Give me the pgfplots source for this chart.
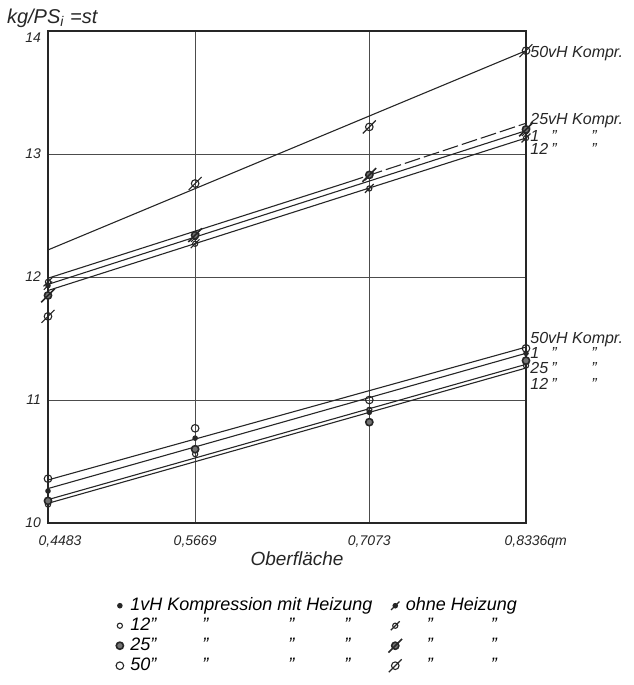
\documentclass[border=0pt]{standalone}
\usepackage{fontspec}
\setmainfont{Liberation Sans}
\usepackage{pgfplots}
\pgfplotsset{compat=1.18}
\pgfdeclareplotmark{oslash}{%
  \pgfpathcircle{\pgfpointorigin}{\pgfplotmarksize}%
  \pgfusepathqstroke
  \pgfpathmoveto{\pgfpoint{-1.7\pgfplotmarksize}{-1.7\pgfplotmarksize}}%
  \pgfpathlineto{\pgfpoint{1.7\pgfplotmarksize}{1.7\pgfplotmarksize}}%
  \pgfusepathqstroke}
\pgfdeclareplotmark{ofslash}{%
  \pgfpathcircle{\pgfpointorigin}{\pgfplotmarksize}%
  \pgfusepathqfillstroke
  \pgfpathmoveto{\pgfpoint{-1.9\pgfplotmarksize}{-1.9\pgfplotmarksize}}%
  \pgfpathlineto{\pgfpoint{1.9\pgfplotmarksize}{1.9\pgfplotmarksize}}%
  \pgfusepathqstroke}
\newcommand{\dit}[1]{\makebox[10.5pt][l]{#1}\makebox[20pt][l]{''}''}
\newcommand{\lgA}[1]{\makebox[128.5pt][l]{\makebox[36pt][l]{#1}\makebox[43pt][l]{''}\makebox[28pt][l]{''}''}}
\newcommand{\lgB}{\hspace*{10.5pt}\makebox[32pt][l]{''}''}
\tikzset{lab/.style={anchor=west, xshift=1.5pt, font=\fontsize{8}{9}\selectfont\itshape, inner sep=0.5pt, black!85}}
\begin{document}
\begin{tikzpicture}[font=\itshape]
\useasboundingbox (-24pt,-81pt) rectangle (292.5pt,261.5pt);
\begin{axis}[
  at={(0,0)}, anchor=south west,
  scale only axis, width=239pt, height=246pt,
  xmin=0.4483, xmax=0.8336, ymin=10, ymax=14,
  xtick={0.4483,0.5669,0.7073,0.8336},
  xticklabels={{\hspace*{12pt}0,4483},{0,5669},{0,7073},{0,8336\rlap{qm}}},
  ytick={10,11,12,13,14},
  yticklabels={10,11,12,13,{\smash{\raisebox{-5.5pt}{14}}}},
  major tick length=0pt,
  tick label style={font=\fontsize{7}{8}\selectfont\itshape, black!85},
  xticklabel style={yshift=-3pt},
  axis line style={line width=0.6pt, black!85},
  grid=major, grid style={line width=0.35pt, black!70},
  clip=false,
  every axis plot/.append style={line width=0.55pt, black!85},
  legend columns=2,
  legend cell align=left,
  legend image code/.code={\draw[mark repeat=2,mark phase=2] plot coordinates {(0pt,0pt)(2pt,0pt)(4pt,0pt)}; \path (0pt,0pt) (6.5pt,0pt);},
  legend style={at={(rel axis cs:0.140,-0.148)}, anchor=north west, draw=none, fill=none, inner sep=0pt,
    font=\fontsize{9}{10}\selectfont\itshape, row sep=0.5pt,
    nodes={inner sep=0.5pt, text height=6.5pt, text depth=2pt}},
]
% ---- lines, ohne Heizung (upper)
\addplot[forget plot] coordinates {(0.4483,12.22) (0.8336,13.84)};
\addplot[forget plot] coordinates {(0.4483,11.99) (0.6900,12.77)};
\addplot[forget plot, dash pattern=on 8pt off 2pt] coordinates {(0.6900,12.77) (0.8336,13.25)};
\addplot[forget plot] coordinates {(0.4483,11.94) (0.8336,13.19)};
\addplot[forget plot] coordinates {(0.4483,11.89) (0.8336,13.13)};
% ---- lines, mit Heizung (lower)
\addplot[forget plot] coordinates {(0.4483,10.35) (0.8336,11.43)};
\addplot[forget plot] coordinates {(0.4483,10.28) (0.8336,11.38)};
\addplot[forget plot] coordinates {(0.4483,10.19) (0.8336,11.29)};
\addplot[forget plot] coordinates {(0.4483,10.16) (0.8336,11.26)};
% ---- marks
\addplot[only marks, mark=*, mark size=1.1pt] coordinates {(0.4483,10.26) (0.5669,10.69) (0.7073,10.90) (0.8336,11.38)};
\addlegendentry{\makebox[128.5pt][l]{1vH Kompression mit Heizung}}
\addplot[only marks, mark=ofslash, mark size=1.1pt] coordinates {(0.4483,11.93) (0.5669,12.32) (0.7073,12.82) (0.8336,13.18)};
\addlegendentry{ohne Heizung}
\addplot[only marks, mark=o, mark size=1.3pt, mark options={fill=white}] coordinates {(0.4483,10.15) (0.5669,10.56) (0.7073,10.92) (0.8336,11.28)};
\addlegendentry{\lgA{12''}}
\addplot[only marks, mark=oslash, mark size=1.3pt] coordinates {(0.4483,11.96) (0.5669,12.27) (0.7073,12.72) (0.8336,13.13)};
\addlegendentry{\lgB}
\addplot[only marks, mark=*, mark size=1.8pt, mark options={fill=black!55, line width=0.8pt}] coordinates {(0.4483,10.18) (0.5669,10.60) (0.7073,10.82) (0.8336,11.32)};
\addlegendentry{\lgA{25''}}
\addplot[only marks, mark=ofslash, mark size=1.8pt, mark options={fill=black!55, line width=0.8pt}] coordinates {(0.4483,11.85) (0.5669,12.34) (0.7073,12.83) (0.8336,13.20)};
\addlegendentry{\lgB}
\addplot[only marks, mark=o, mark size=1.9pt, mark options={fill=white}] coordinates {(0.4483,10.36) (0.5669,10.77) (0.7073,11.00) (0.8336,11.42)};
\addlegendentry{\lgA{50''}}
\addplot[only marks, mark=oslash, mark size=1.9pt, mark options={fill=white}] coordinates {(0.4483,11.68) (0.5669,12.76) (0.7073,13.22) (0.8336,13.84)};
\addlegendentry{\lgB}
% ---- right labels
\node[lab] at (axis cs:0.8336,13.82) {50vH Kompr.};
\node[lab] at (axis cs:0.8336,13.27) {25vH Kompr.};
\node[lab] at (axis cs:0.8336,13.15) {\dit{1}};
\node[lab] at (axis cs:0.8336,13.045) {\dit{12}};
\node[lab] at (axis cs:0.8336,11.49) {50vH Kompr.};
\node[lab] at (axis cs:0.8336,11.385) {\dit{1}};
\node[lab] at (axis cs:0.8336,11.26) {\dit{25}};
\node[lab] at (axis cs:0.8336,11.13) {\dit{12}};
\end{axis}
\node[anchor=north, font=\fontsize{9.5}{10}\selectfont\itshape, black!85] at (124.5pt,-11pt) {Oberfläche};
\node[anchor=west, font=\fontsize{10}{11}\selectfont\itshape, black!85] at (-24pt,252.5pt) {kg/PS\textsubscript{\itshape i} =st};
\end{tikzpicture}
\end{document}
